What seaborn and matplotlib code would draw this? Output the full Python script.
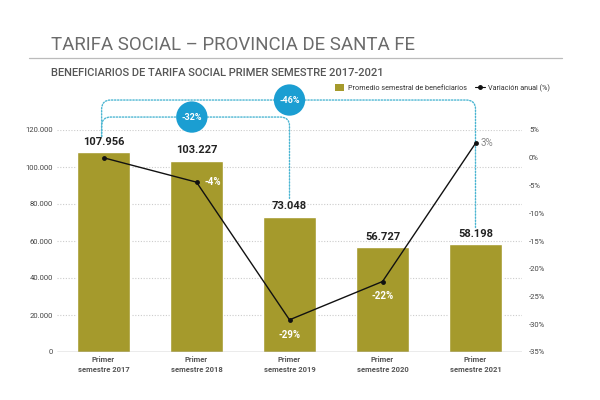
import numpy as np
import matplotlib
matplotlib.use("Agg")
import matplotlib.pyplot as plt
import seaborn as sns
from matplotlib.patches import Patch
from matplotlib.lines import Line2D

# --- data ---
categorias = ["Primer\nsemestre 2017", "Primer\nsemestre 2018", "Primer\nsemestre 2019",
              "Primer\nsemestre 2020", "Primer\nsemestre 2021"]
beneficiarios = [107956, 103227, 73048, 56727, 58198]
etiquetas_benef = ["107.956", "103.227", "73.048", "56.727", "58.198"]
variacion = [0.0, -4.4, -29.2, -22.3, 2.6]
etiquetas_var = ["", "-4%", "-29%", "-22%", "3%"]
left_ticks = [0, 20000, 40000, 60000, 80000, 100000, 120000]
left_labels = ["0", "20.000", "40.000", "60.000", "80.000", "100.000", "120.000"]
right_ticks = [5, 0, -5, -10, -15, -20, -25, -30, -35]

OLIVA = "#a59a2c"
AZUL = "#1b9ed2"
PUNTOS = "#4cb6d2"

sns.set_theme(style="white")
plt.rcParams["font.family"] = ["Roboto", "DejaVu Sans"]

fig = plt.figure(figsize=(6, 4), dpi=100)
fig.patch.set_facecolor("white")
ax = fig.add_axes([57 / 600, 1 - 352 / 400, 465 / 600, 222 / 400])

# bars
sns.barplot(x=list(range(len(beneficiarios))), y=beneficiarios, color=OLIVA,
            width=0.56, saturation=1, ax=ax)
ax.set_xlim(-0.5, 4.5)
ax.set_ylim(0, 120000)
ax.set_yticks(left_ticks)
ax.set_yticklabels(left_labels, fontsize=5.5, color="#444")
ax.set_xticks(range(len(categorias)))
ax.set_xticklabels(categorias, fontsize=5.5, color="#555", fontweight="bold", linespacing=1.4)
ax.tick_params(axis="both", length=0, pad=3)
ax.set_xlabel("")
ax.set_ylabel("")
for s in ax.spines.values():
    s.set_visible(False)
for t in left_ticks[1:]:
    ax.axhline(t, color="#cccccc", linestyle=(0, (1, 1.5)), linewidth=0.8, zorder=0)
ax.axhline(0, color="#999999", linewidth=1, zorder=3)

for i, (v, lab) in enumerate(zip(beneficiarios, etiquetas_benef)):
    ax.text(i, v + 3000, lab, ha="center", va="bottom", fontsize=8,
            fontweight="bold", color="#222")

# line on twin axis
ax2 = ax.twinx()
sns.lineplot(x=list(range(len(variacion))), y=variacion, color="#111", linewidth=1,
             marker="o", markersize=3.5, markeredgewidth=0, ax=ax2)
ax2.set_ylim(-35, 5)
ax2.set_yticks(right_ticks)
ax2.set_yticklabels([f"{t}%" for t in right_ticks], fontsize=5.5, color="#444")
ax2.tick_params(axis="y", length=0, pad=5)
ax2.set_ylabel("")
for s in ax2.spines.values():
    s.set_visible(False)

for i, (v, lab) in enumerate(zip(variacion, etiquetas_var)):
    if not lab:
        continue
    if i == 1:
        ax2.annotate(lab, (i, v), xytext=(6, 0), textcoords="offset points",
                     ha="left", va="center", fontsize=7, color="white", fontweight="bold")
    elif i == 4:
        ax2.annotate(lab, (i, v), xytext=(4, 0), textcoords="offset points",
                     ha="left", va="center", fontsize=7, color="#888")
    else:
        ax2.annotate(lab, (i, v), xytext=(0, -7), textcoords="offset points",
                     ha="center", va="top", fontsize=7, color="white", fontweight="bold")

# dotted brackets with rounded corners
def tramo(xa, ya, xb, yb, angA, angB):
    ax.annotate("", xy=(xb, yb), xytext=(xa, ya), annotation_clip=False,
                arrowprops=dict(arrowstyle="-", color=PUNTOS, linewidth=1,
                                linestyle=(0, (1, 1.2)), shrinkA=0, shrinkB=0,
                                connectionstyle=f"angle,angleA={angA},angleB={angB},rad=9"))

tramo(-0.02, 116500, 2, 136200, 90, 0)
tramo(2, 136200, 4, 67000, 0, 90)
tramo(-0.02, 116500, 0.95, 127000, 90, 0)
tramo(0.95, 127000, 2, 82500, 0, 90)

for xc, yc, lab in [(0.95, 127000, "-32%"), (2.0, 136200, "-46%")]:
    ax.text(xc, yc, lab, ha="center", va="center", fontsize=6.5, color="white",
            fontweight="bold", clip_on=False, zorder=6,
            bbox=dict(boxstyle="circle,pad=0.6", fc=AZUL, ec="none"))

# legend
handles = [Patch(facecolor=OLIVA, edgecolor="none"),
           Line2D([0], [0], color="#111", marker="o", markersize=2.5, linewidth=0.8)]
fig.legend(handles, ["Promedio semestral de beneficiarios", "Variación anual (%)"],
           loc="center left", bbox_to_anchor=(328 / 600, 1 - 88 / 400), ncol=2,
           frameon=False, fontsize=5.2, handlelength=1.3, handleheight=1.2,
           columnspacing=1.2, handletextpad=0.5, labelcolor="#333")

# title block
fig.text(51 / 600, 1 - 45 / 400, "TARIFA SOCIAL – PROVINCIA DE SANTA FE", fontsize=13.4,
         color="#6b6b6b", va="center", ha="left")
fig.add_artist(Line2D([29 / 600, 562 / 600], [1 - 58 / 400, 1 - 58 / 400],
                      color="#bbbbbb", linewidth=0.9))
fig.text(51 / 600, 1 - 73 / 400, "BENEFICIARIOS DE TARIFA SOCIAL PRIMER SEMESTRE 2017-2021",
         fontsize=8, color="#555", va="center", ha="left", fontweight="medium")

fig.savefig("out.png", dpi=100, facecolor="white")
